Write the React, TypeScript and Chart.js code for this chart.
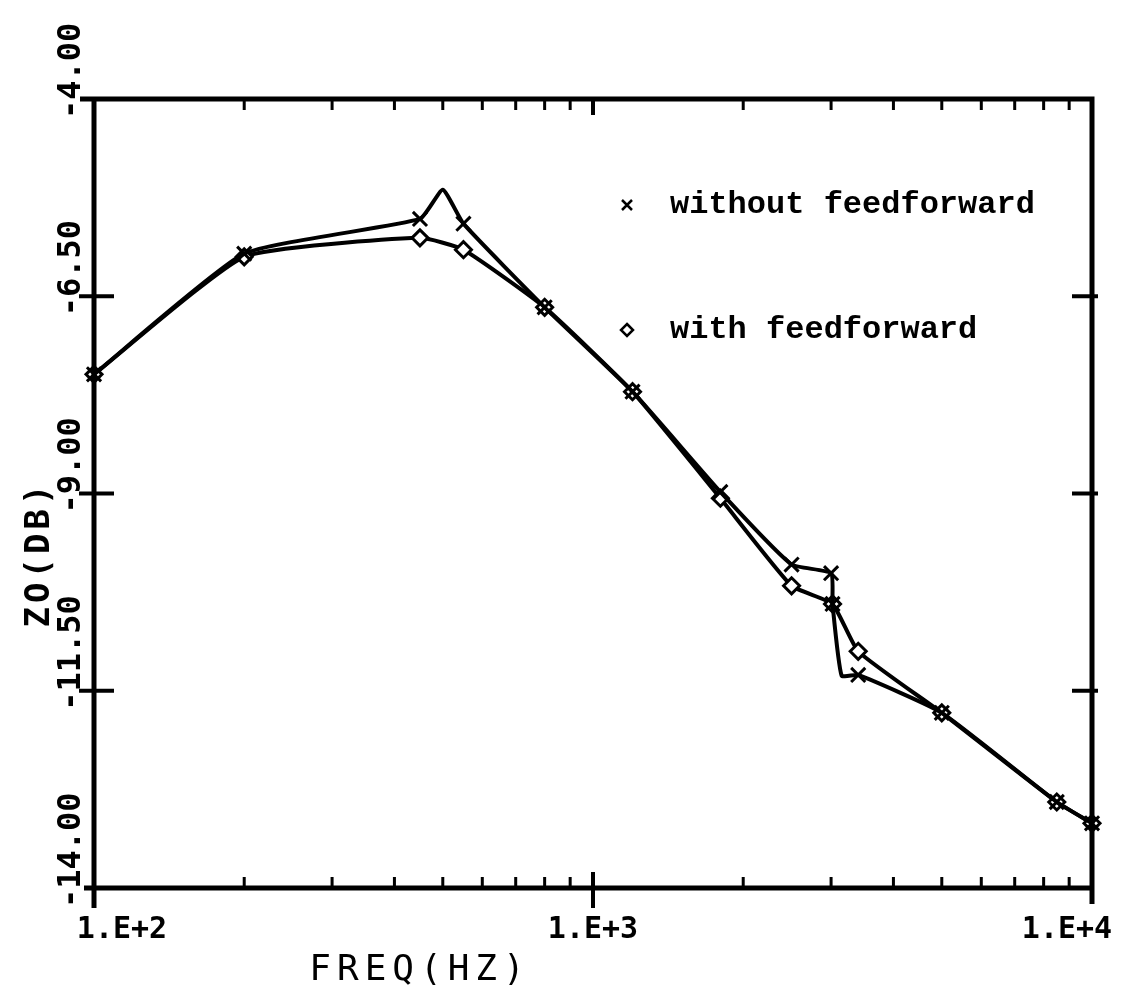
import React, { useEffect, useRef } from "react";
import { Chart, registerables } from "chart.js";

Chart.register(...registerables);

// Output impedance ZO (dB) versus frequency (Hz)
const freqWithout = [100, 200, 450, 500, 550, 800, 1200, 1800, 2500, 3000, 3020, 3150, 3400, 5000, 8500, 10000];
const zoWithout = [-7.49, -5.96, -5.52, -5.15, -5.58, -6.64, -7.71, -8.98, -9.9, -10.01, -10.4, -11.31, -11.3, -11.78, -12.91, -13.18];
// 1 = marker drawn at that sample, 0 = curve passes through without a marker
const markWithout = [1, 1, 1, 0, 1, 1, 1, 1, 1, 1, 1, 0, 1, 1, 1, 1];

const freqWith = [100, 200, 450, 550, 800, 1200, 1800, 2500, 3020, 3400, 5000, 8500, 10000];
const zoWith = [-7.49, -6.0, -5.76, -5.91, -6.64, -7.71, -9.06, -10.17, -10.4, -11.0, -11.78, -12.91, -13.18];

const seriesLabels = ["without feedforward", "with feedforward"];

const xTickValues = [100, 1000, 10000];
const xTickLabels = ["1.E+2", "1.E+3", "1.E+4"];
const yTickValues = [-14, -11.5, -9, -6.5, -4];
const yTickLabels = ["-14.00", "-11.50", "-9.00", "-6.50", "-4.00"];

const xTitle = "FREQ(HZ)";
const yTitle = "ZO(DB)";

const INK = "#000";

const plotterPlugin = {
  id: "plotterFrame",
  afterDraw(chart: any) {
    const ctx: CanvasRenderingContext2D = chart.ctx;
    const { left, right, top, bottom } = chart.chartArea;
    const xs = chart.scales.x;
    const ys = chart.scales.y;
    ctx.save();
    ctx.strokeStyle = INK;
    ctx.fillStyle = INK;
    ctx.lineCap = "butt";

    // frame
    ctx.lineWidth = 5;
    ctx.beginPath();
    ctx.moveTo(left - 14, top);
    ctx.lineTo(right, top);
    ctx.lineTo(right, bottom + 16);
    ctx.moveTo(left, top);
    ctx.lineTo(left, bottom + 20);
    ctx.moveTo(left - 10, bottom);
    ctx.lineTo(right, bottom);
    ctx.stroke();

    // x minor ticks (2..9 in each decade)
    ctx.lineWidth = 3;
    for (let d = 100; d < 10000; d *= 10) {
      for (let m = 2; m <= 9; m++) {
        const px = xs.getPixelForValue(m * d);
        ctx.beginPath();
        ctx.moveTo(px, bottom);
        ctx.lineTo(px, bottom - 11);
        ctx.moveTo(px, top);
        ctx.lineTo(px, top + 11);
        ctx.stroke();
      }
    }
    // x major tick in the middle
    ctx.lineWidth = 4;
    const pm = xs.getPixelForValue(1000);
    ctx.beginPath();
    ctx.moveTo(pm, bottom - 16);
    ctx.lineTo(pm, bottom + 20);
    ctx.moveTo(pm, top);
    ctx.lineTo(pm, top + 16);
    ctx.stroke();

    // y ticks on both sides
    yTickValues.forEach((v) => {
      if (v === -4 || v === -14) return;
      const py = ys.getPixelForValue(v);
      ctx.beginPath();
      ctx.moveTo(left - 15, py);
      ctx.lineTo(left + 20, py);
      ctx.moveTo(right - 20, py);
      ctx.lineTo(right + 6, py);
      ctx.stroke();
    });

    // y tick labels, rotated
    ctx.font = "bold 32px 'DejaVu Sans Mono'";
    (ctx as any).letterSpacing = "0px";
    ctx.textBaseline = "alphabetic";
    yTickValues.forEach((v, i) => {
      const py = ys.getPixelForValue(v);
      ctx.save();
      ctx.translate(80, py + 20);
      ctx.rotate(-Math.PI / 2);
      ctx.textAlign = "left";
      ctx.fillText(yTickLabels[i], 0, 0);
      ctx.restore();
    });

    // x tick labels
    ctx.font = "bold 30px 'DejaVu Sans Mono'";
    xTickValues.forEach((v, i) => {
      const px = xs.getPixelForValue(v);
      const shift = i === 0 ? 28 : i === xTickValues.length - 1 ? -25 : 0;
      ctx.textAlign = "center";
      ctx.fillText(xTickLabels[i], px + shift, 938);
    });

    // axis titles
    ctx.font = "36px 'DejaVu Sans Mono'";
    (ctx as any).letterSpacing = "6px";
    ctx.textAlign = "center";
    ctx.fillText(xTitle, 420, 980);
    ctx.save();
    ctx.font = "bold 34px 'DejaVu Sans Mono'";
    (ctx as any).letterSpacing = "4px";
    ctx.translate(49, 554);
    ctx.rotate(-Math.PI / 2);
    ctx.fillText(yTitle, 0, 0);
    ctx.restore();
    (ctx as any).letterSpacing = "0px";

    // legend
    ctx.font = "bold 32px 'Liberation Mono'";
    ctx.textAlign = "left";
    ctx.lineWidth = 2.5;
    // cross marker
    ctx.beginPath();
    ctx.moveTo(622, 200);
    ctx.lineTo(632, 210);
    ctx.moveTo(632, 200);
    ctx.lineTo(622, 210);
    ctx.stroke();
    ctx.fillText(seriesLabels[0], 670, 213);
    // diamond marker
    ctx.beginPath();
    ctx.moveTo(627, 324);
    ctx.lineTo(633, 330);
    ctx.lineTo(627, 336);
    ctx.lineTo(621, 330);
    ctx.closePath();
    ctx.stroke();
    ctx.fillText(seriesLabels[1], 670, 338);

    ctx.restore();
  },
};

export default function App() {
  const canvasRef = useRef<HTMLCanvasElement | null>(null);

  useEffect(() => {
    const canvas = canvasRef.current;
    if (!canvas) return;
    const chart = new Chart(canvas, {
      type: "line",
      data: {
        datasets: [
          {
            label: seriesLabels[0],
            data: freqWithout.map((f, i) => ({ x: f, y: zoWithout[i] })),
            borderColor: INK,
            borderWidth: 4,
            pointStyle: "crossRot",
            pointRadius: markWithout.map((m) => (m ? 10 : 0)),
            pointBorderWidth: 3,
            pointBorderColor: INK,
            pointBackgroundColor: INK,
            tension: 0.15,
            clip: false,
          } as any,
          {
            label: seriesLabels[1],
            data: freqWith.map((f, i) => ({ x: f, y: zoWith[i] })),
            borderColor: INK,
            borderWidth: 4,
            pointStyle: "rectRot",
            pointRadius: 8,
            pointBorderWidth: 3,
            pointBorderColor: INK,
            pointBackgroundColor: "#fff",
            tension: 0.15,
            clip: false,
          } as any,
        ],
      },
      options: {
        animation: false,
        responsive: false,
        devicePixelRatio: 1,
        layout: { padding: { left: 94, right: 45, top: 99, bottom: 106 } },
        plugins: { legend: { display: false }, tooltip: { enabled: false } },
        scales: {
          x: { type: "logarithmic", min: 100, max: 10000, display: false },
          y: { type: "linear", min: -14, max: -4, display: false },
        },
      },
      plugins: [plotterPlugin],
    });
    return () => chart.destroy();
  }, []);

  return (
    <div style={{ position: "absolute", left: 0, top: 0, width: 1137, height: 994, background: "#fff" }}>
      <canvas ref={canvasRef} width={1137} height={994} />
    </div>
  );
}
